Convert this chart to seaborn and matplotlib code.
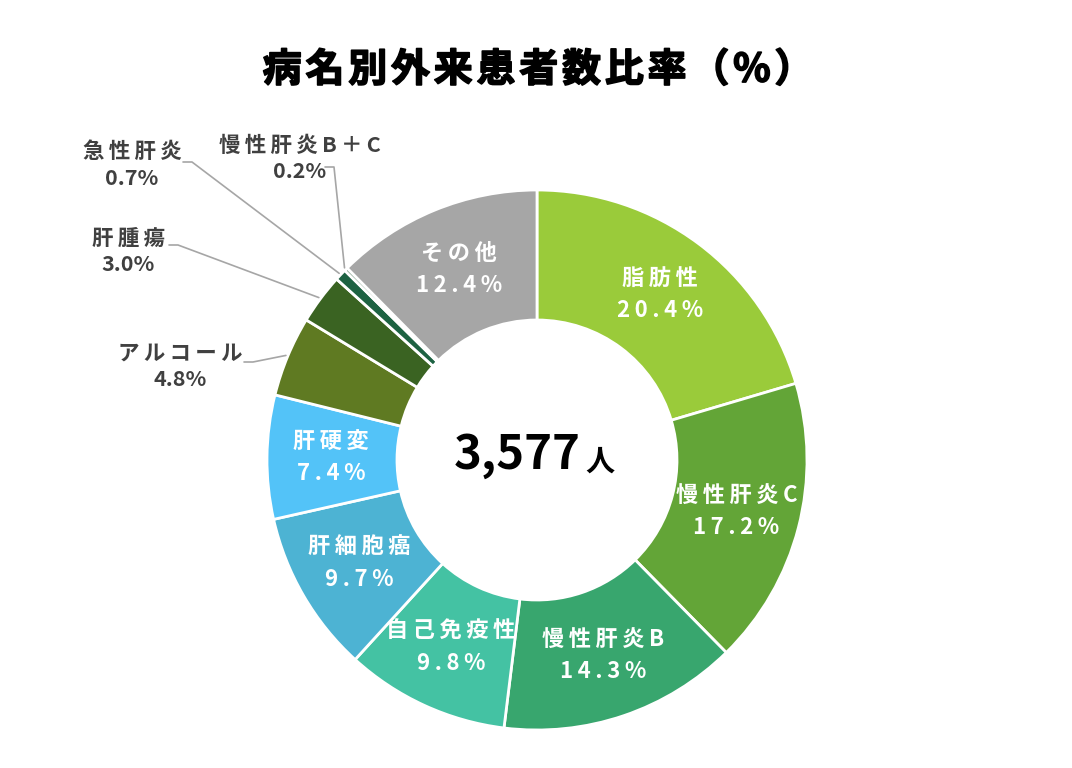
import numpy as np
import matplotlib
matplotlib.use("Agg")
import matplotlib.pyplot as plt
import matplotlib.patheffects as pe
import seaborn as sns

# data
categories = ["脂肪性", "慢性肝炎C", "慢性肝炎B", "自己免疫性", "肝細胞癌", "肝硬変",
              "アルコール", "肝腫瘍", "急性肝炎", "慢性肝炎B＋C", "その他"]
shares = [20.4, 17.2, 14.3, 9.8, 9.7, 7.4, 4.8, 3.0, 0.7, 0.2, 12.4]
total_patients = 3577
title = "病名別外来患者数比率（%）"

slice_colors = ["#9ACB3A", "#63A537", "#38A66E", "#44C2A3", "#4DB3D3", "#53C3F8",
                "#5F7A22", "#3A6322", "#1D6242", "#2C5F3A", "#A6A6A6"]

# outside labels: label center (px), leader start (px)
outside = {
    "アルコール": ((180, 366), (244, 362)),
    "肝腫瘍": ((128, 251), (169, 245)),
    "急性肝炎": ((132, 165), (183, 162)),
    "慢性肝炎B＋C": ((300, 158), (325, 167)),
}

sns.set_theme(style="white")
plt.rcParams["font.family"] = ["Noto Sans CJK JP", "DejaVu Sans"]

W, H = 1072, 768
cx, cy = 537, 460          # pie centre in pixels
r_out, r_in = 270, 140


def spaced(s, gap="\u2009"):
    # fake letter spacing: the space glyph comes from DejaVu via the fallback list
    return gap.join(s)


def px(x, y):
    return x - cx, cy - y


fig = plt.figure(figsize=(W / 100, H / 100), dpi=100)
ax = fig.add_axes([0, 0, 1, 1])

wedges, _ = ax.pie(shares, colors=sns.color_palette(slice_colors), startangle=90,
                   counterclock=False, radius=r_out,
                   wedgeprops=dict(width=r_out - r_in, edgecolor="white", linewidth=2))
# pie resets the limits, so put the pixel frame back afterwards
ax.set_aspect("auto")
ax.set_xlim(-cx, W - cx)
ax.set_ylim(-(H - cy), cy)
ax.axis("off")

r_mid = (r_out + r_in) / 2 + 1
for w, name, v in zip(wedges, categories, shares):
    ang = np.deg2rad((w.theta1 + w.theta2) / 2)
    if name in outside:
        (lx, ly), (sx, sy) = outside[name]
        ex, ey = (r_out + 2) * np.cos(ang), (r_out + 2) * np.sin(ang)
        x0, y0 = px(sx, sy)
        ax.plot([x0, x0 + 9, ex], [y0, y0, ey], color="#A6A6A6", lw=1.2, zorder=1)
        ax.text(*px(lx, ly), f"{spaced(name)}\n{v:.1f}%", ha="center", va="center",
                fontsize=15.5, fontweight="bold", color="#404040", linespacing=1.3)
    else:
        ax.text(r_mid * np.cos(ang), r_mid * np.sin(ang),
                f"{spaced(name)}\n{spaced(f'{v:.1f}%')}",
                ha="center", va="center", fontsize=16, fontweight="bold",
                color="white", linespacing=1.5)

# centre total
ax.text(*px(517, 455), f"{total_patients:,}", ha="center", va="center",
        fontsize=34, fontweight="bold", color="black")
ax.text(*px(600, 462), "人", ha="center", va="center",
        fontsize=21, fontweight="bold", color="black")

ax.text(*px(538, 70), spaced(title, "\u200a"), ha="center", va="center", fontsize=28,
        fontweight="bold", color="black",
        path_effects=[pe.withStroke(linewidth=1.2, foreground="black")])

fig.savefig("out.png", dpi=100, facecolor="white")
